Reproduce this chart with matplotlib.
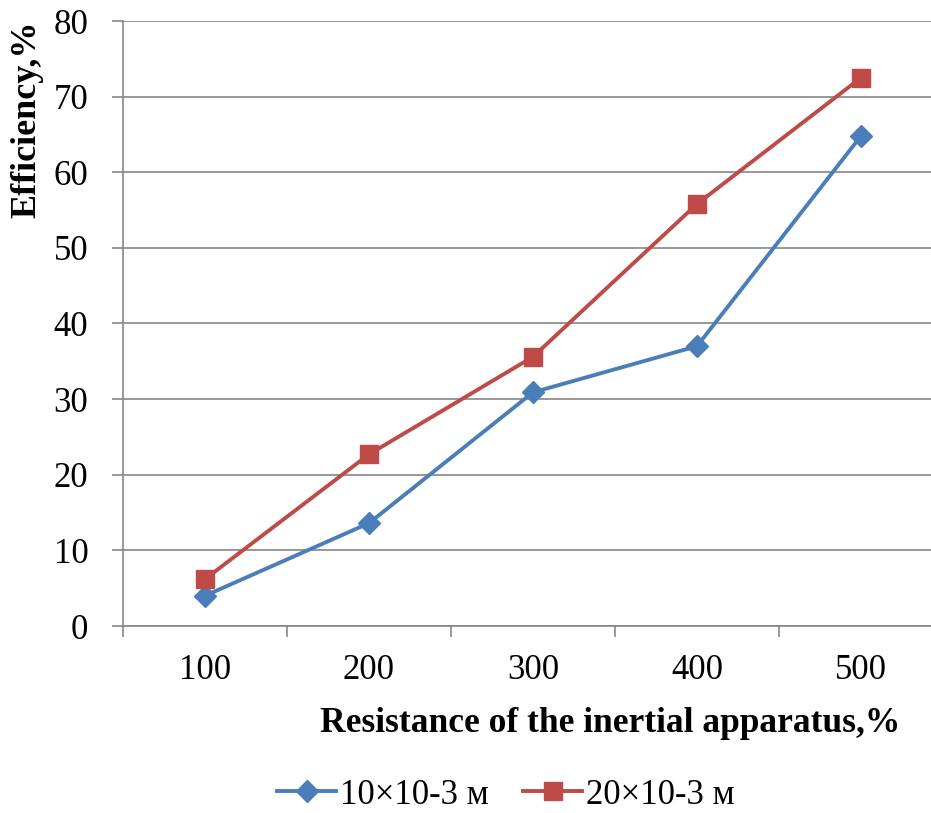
import matplotlib
matplotlib.use("Agg")
import matplotlib.pyplot as plt
from matplotlib.lines import Line2D

categories = ["100", "200", "300", "400", "500"]
series1_name = "10×10-3 м"
series1 = [4.0, 13.6, 30.9, 37.0, 64.8]
series2_name = "20×10-3 м"
series2 = [6.2, 22.7, 35.6, 55.8, 72.5]
yticks = [0, 10, 20, 30, 40, 50, 60, 70, 80]

plt.rcParams['font.family'] = ['Liberation Serif', 'DejaVu Serif']

W, H = 931, 813
fig = plt.figure(figsize=(W/100, H/100), dpi=100)
left, right = 123/W, 943/W
bottom, top = (H-626)/H, (H-21)/H
ax = fig.add_axes([left, bottom, right-left, top-bottom])

blue = "#4A7EBB"
red = "#BE4B48"
grid = "#868686"

x = list(range(len(categories)))
ax.plot(x, series1, color=blue, lw=2.8, marker="D", ms=11, label=series1_name, zorder=3)
ax.plot(x, series2, color=red, lw=2.8, marker="s", ms=13, label=series2_name, zorder=3)

ax.set_xlim(-0.5, len(categories)-0.5)
ax.set_ylim(0, 80)
ax.set_yticks(yticks)
ax.set_yticklabels([str(v) for v in yticks])
ax.set_xticks([i - 0.5 for i in range(len(categories)+1)])
ax.set_xticklabels([])
ax.set_xticks(x, minor=True)
ax.set_xticklabels(categories, minor=True)
ax.tick_params(axis="x", which="major", length=8, width=1.2, color=grid, direction="out")
ax.tick_params(axis="x", which="minor", length=0, pad=20, labelsize=25)
ax.tick_params(axis="y", length=8, width=1.2, color=grid, direction="out", labelsize=25, pad=17)

ax.yaxis.grid(True, color=grid, lw=1.2)
ax.set_axisbelow(True)
for s in ["top", "right"]:
    ax.spines[s].set_visible(False)
for s in ["left", "bottom"]:
    ax.spines[s].set_color(grid)
    ax.spines[s].set_linewidth(1.2)

fig.text(27/W, 1 - 119/H, "Efficiency,%", rotation=90, ha="center", va="center",
         fontsize=26, fontweight="bold")
fig.text(610/W, 1 - 723/H, "Resistance of the inertial apparatus,%", ha="center", va="center",
         fontsize=25.5, fontweight="bold")

handles = [Line2D([], [], color=blue, lw=2.8, marker="D", ms=11),
           Line2D([], [], color=red, lw=2.8, marker="s", ms=13)]
fig.legend(handles, [series1_name, series2_name], loc="center",
           bbox_to_anchor=(506/W, 1 - 795/H), ncol=2, frameon=False,
           fontsize=25, handlelength=1.7, handletextpad=0.1, columnspacing=1.0,
           borderpad=0.1)

fig.savefig("out.png", dpi=100)
